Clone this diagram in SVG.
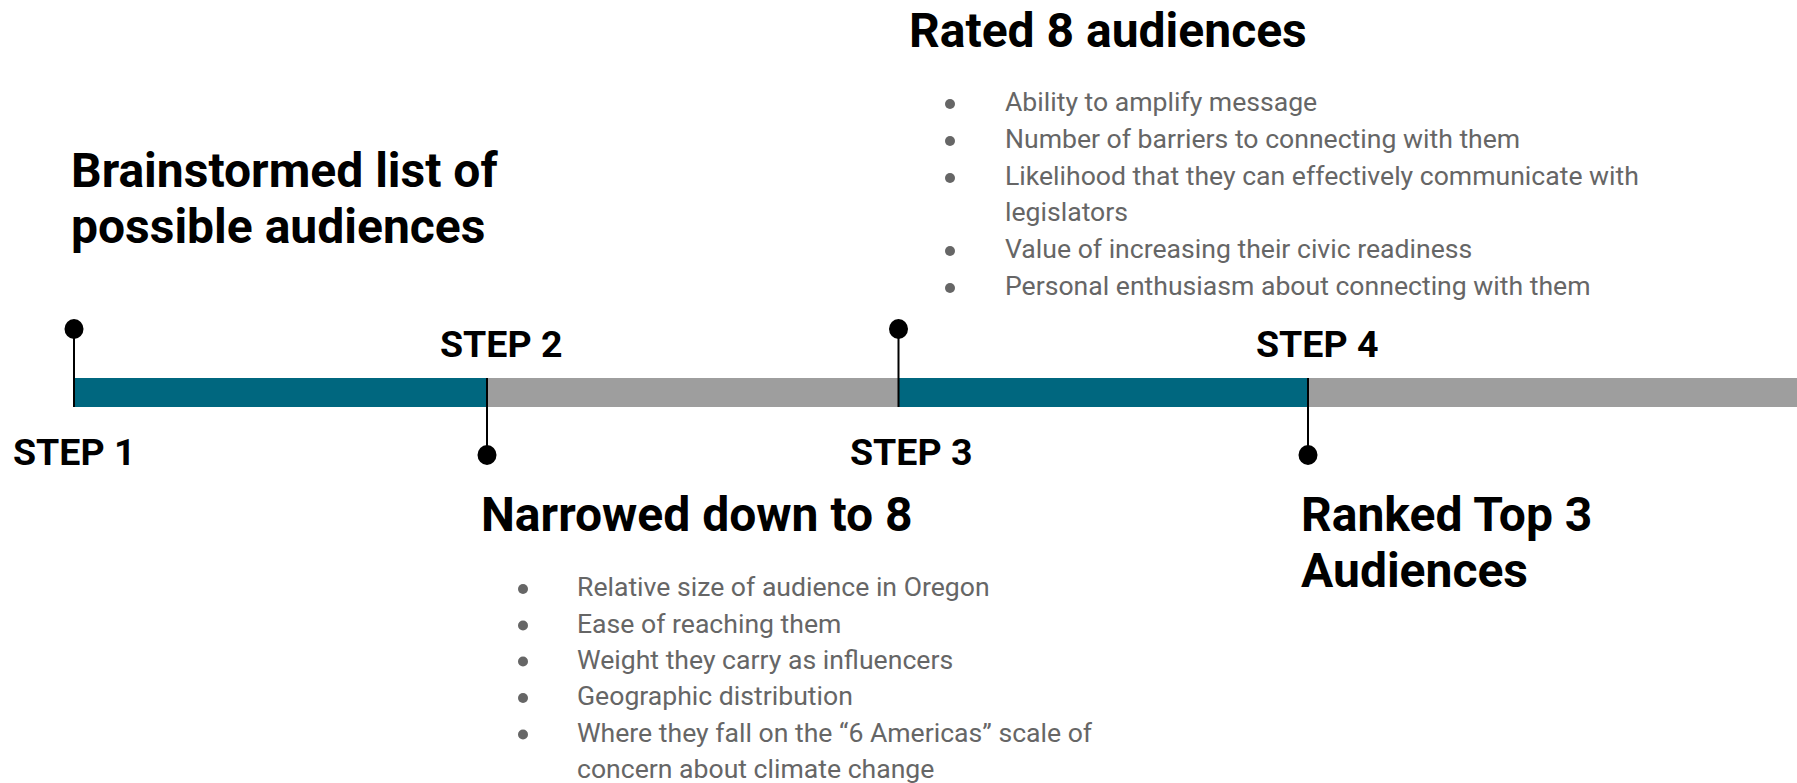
<svg xmlns="http://www.w3.org/2000/svg" width="1797" height="783" viewBox="0 0 1797 783">
  <style>
    .head { font-family: Roboto, "Liberation Sans", sans-serif; font-weight: 700; font-size: 48px; fill: #000; }
    .step { font-family: Roboto, "Liberation Sans", sans-serif; font-weight: 700; font-size: 37.5px; fill: #000; }
    .item { font-family: Roboto, "Liberation Sans", sans-serif; font-size: 26.6px; fill: #666666; }
    .dot { fill: #666666; }
    .pin { stroke: #000; stroke-width: 2; }
    .knob { fill: #000; }
    .teal { fill: #00677f; }
    .gray { fill: #9e9e9e; }
  </style>
  <rect width="1797" height="783" fill="#ffffff"/>

  <!-- timeline bar -->
  <g id="timeline">
    <rect class="teal" x="74" y="378" width="413" height="29"/>
    <rect class="gray" x="487" y="378" width="412" height="29"/>
    <rect class="teal" x="899" y="378" width="409" height="29"/>
    <rect class="gray" x="1308" y="378" width="489" height="29"/>
  </g>

  <!-- marker pins -->
  <g id="connectors">
    <line class="pin" x1="74" y1="329" x2="74" y2="407"/>
    <line class="pin" x1="487" y1="378" x2="487" y2="455"/>
    <line class="pin" x1="898.5" y1="329" x2="898.5" y2="407"/>
    <line class="pin" x1="1308" y1="378" x2="1308" y2="455"/>
    <ellipse class="knob" cx="74" cy="329" rx="9.5" ry="10"/>
    <ellipse class="knob" cx="487" cy="455" rx="9.5" ry="10"/>
    <ellipse class="knob" cx="898.5" cy="329" rx="9.5" ry="10"/>
    <ellipse class="knob" cx="1308" cy="455" rx="9.5" ry="10"/>
  </g>

  <g id="step1">
    <text class="step" x="13" y="465">STEP 1</text>
    <text class="head" x="71" y="187">Brainstormed list of</text>
    <text class="head" x="71" y="243">possible audiences</text>
  </g>

  <g id="step2">
    <text class="step" x="440" y="357">STEP 2</text>
    <text class="head" x="481" y="531">Narrowed down to 8</text>
    <circle class="dot" cx="523" cy="589" r="5"/>
    <text class="item" x="577" y="596">Relative size of audience in Oregon</text>
    <circle class="dot" cx="523" cy="625.5" r="5"/>
    <text class="item" x="577" y="632.5">Ease of reaching them</text>
    <circle class="dot" cx="523" cy="661.5" r="5"/>
    <text class="item" x="577" y="668.5">Weight they carry as influencers</text>
    <circle class="dot" cx="523" cy="698" r="5"/>
    <text class="item" x="577" y="705">Geographic distribution</text>
    <circle class="dot" cx="523" cy="734.5" r="5"/>
    <text class="item" x="577" y="741.5">Where they fall on the “6 Americas” scale of</text>
    <text class="item" x="577" y="778">concern about climate change</text>
  </g>

  <g id="step3">
    <text class="step" x="850" y="465">STEP 3</text>
    <text class="head" x="909" y="47">Rated 8 audiences</text>
    <circle class="dot" cx="950" cy="104" r="5"/>
    <text class="item" x="1005" y="111">Ability to amplify message</text>
    <circle class="dot" cx="950" cy="141" r="5"/>
    <text class="item" x="1005" y="148">Number of barriers to connecting with them</text>
    <circle class="dot" cx="950" cy="178" r="5"/>
    <text class="item" x="1005" y="185">Likelihood that they can effectively communicate with</text>
    <text class="item" x="1005" y="221">legislators</text>
    <circle class="dot" cx="950" cy="251" r="5"/>
    <text class="item" x="1005" y="258">Value of increasing their civic readiness</text>
    <circle class="dot" cx="950" cy="288" r="5"/>
    <text class="item" x="1005" y="295">Personal enthusiasm about connecting with them</text>
  </g>

  <g id="step4">
    <text class="step" x="1256" y="357">STEP 4</text>
    <text class="head" x="1301" y="531">Ranked Top 3</text>
    <text class="head" x="1301" y="587">Audiences</text>
  </g>
</svg>
